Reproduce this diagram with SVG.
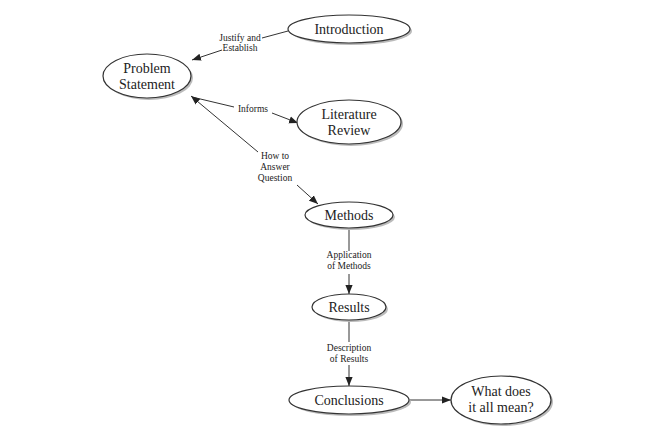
<svg xmlns="http://www.w3.org/2000/svg" width="646" height="433" viewBox="0 0 646 433">
<style>
.n ellipse.b{fill:#fff;stroke:#333;stroke-width:1.2}
.n ellipse.s{fill:#bbb}
.n text{font-family:"Liberation Serif",serif;font-size:14px;fill:#222;text-anchor:middle}
.e line{stroke:#333;stroke-width:1}
.e text{font-family:"Liberation Serif",serif;font-size:9.5px;fill:#222;text-anchor:middle}
</style>
<defs><marker id="a" viewBox="0 0 10 10" refX="10" refY="5" markerWidth="9" markerHeight="9" orient="auto-start-reverse" markerUnits="userSpaceOnUse"><path d="M0,1 L10,5 L0,9 z" fill="#222"/></marker></defs>
<rect width="646" height="433" fill="#fff"/>
<g class="e">
<line x1="288" y1="31" x2="262" y2="38"/><line x1="222" y1="50" x2="192" y2="60" marker-end="url(#a)"/>
<text x="240" y="41">Justify and</text><text x="240" y="51">Establish</text>
<line x1="192" y1="97" x2="234" y2="107"/><line x1="272" y1="113" x2="298" y2="123" marker-end="url(#a)"/>
<text x="253" y="112">Informs</text>
<line x1="191" y1="96" x2="258" y2="152" marker-start="url(#a)"/><line x1="297" y1="185" x2="318" y2="204" marker-end="url(#a)"/>
<text x="275" y="159">How to</text><text x="275" y="170">Answer</text><text x="275" y="181">Question</text>
<line x1="349" y1="229" x2="349" y2="251"/><line x1="349" y1="274" x2="349" y2="294" marker-end="url(#a)"/>
<text x="349" y="258">Application</text><text x="349" y="269">of Methods</text>
<line x1="349" y1="321" x2="349" y2="342"/><line x1="349" y1="365" x2="349" y2="386" marker-end="url(#a)"/>
<text x="349" y="351">Description</text><text x="349" y="362">of Results</text>
<line x1="410" y1="400" x2="451" y2="400" marker-end="url(#a)"/>
</g>
<g class="n" id="intro"><ellipse class="s" cx="351" cy="31" rx="61" ry="14"/><ellipse class="b" cx="349" cy="29" rx="61" ry="14"/><text x="349" y="34">Introduction</text></g>
<g class="n" id="problem"><ellipse class="s" cx="149" cy="78" rx="44" ry="22"/><ellipse class="b" cx="147" cy="76" rx="44" ry="22"/><text x="147" y="73">Problem</text><text x="147" y="89">Statement</text></g>
<g class="n" id="lit"><ellipse class="s" cx="351" cy="124" rx="52" ry="22"/><ellipse class="b" cx="349" cy="122" rx="52" ry="22"/><text x="349" y="119">Literature</text><text x="349" y="135">Review</text></g>
<g class="n" id="methods"><ellipse class="s" cx="351" cy="217" rx="44" ry="13"/><ellipse class="b" cx="349" cy="215" rx="44" ry="13"/><text x="349" y="220">Methods</text></g>
<g class="n" id="results"><ellipse class="s" cx="351" cy="309" rx="37" ry="13"/><ellipse class="b" cx="349" cy="307" rx="37" ry="13"/><text x="349" y="312">Results</text></g>
<g class="n" id="conclusions"><ellipse class="s" cx="351" cy="402" rx="60" ry="14"/><ellipse class="b" cx="349" cy="400" rx="60" ry="14"/><text x="349" y="405">Conclusions</text></g>
<g class="n" id="mean"><ellipse class="s" cx="503" cy="402" rx="50" ry="24"/><ellipse class="b" cx="501" cy="400" rx="50" ry="24"/><text x="501" y="396">What does</text><text x="501" y="412">it all mean?</text></g>
</svg>
